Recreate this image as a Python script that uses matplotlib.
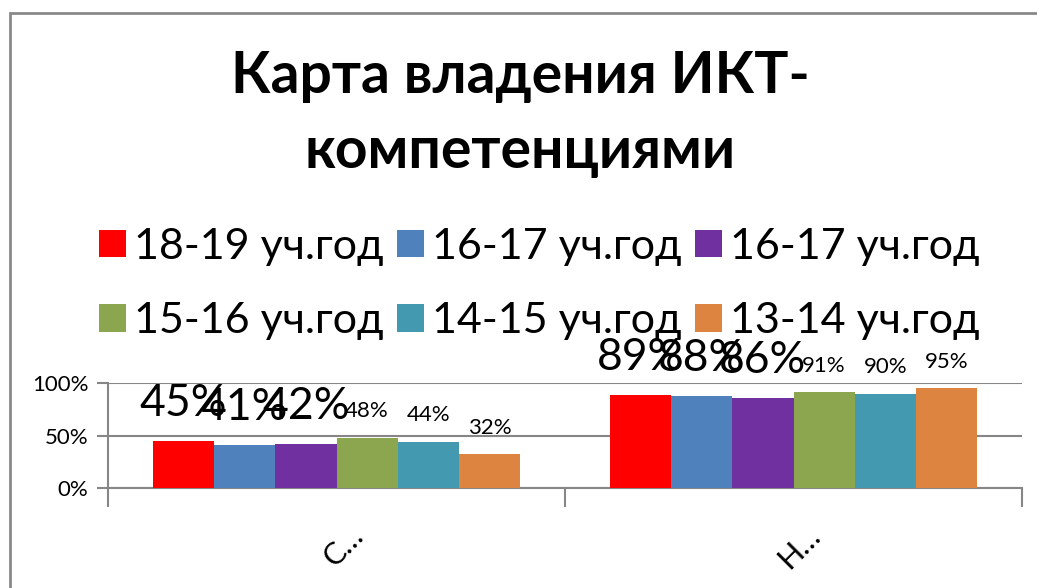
import numpy as np
import matplotlib
matplotlib.use('Agg')
import matplotlib.pyplot as plt
import matplotlib.transforms as mtransforms
from matplotlib.patches import Rectangle

# data
categories = ['С…', 'Н…']
series_names = ['18-19 уч.год', '16-17 уч.год', '16-17 уч.год',
                '15-16 уч.год', '14-15 уч.год', '13-14 уч.год']
s_18_19 = [0.45, 0.89]
s_16_17a = [0.41, 0.88]
s_16_17b = [0.42, 0.86]
s_15_16 = [0.48, 0.91]
s_14_15 = [0.44, 0.90]
s_13_14 = [0.32, 0.95]
series_values = [s_18_19, s_16_17a, s_16_17b, s_15_16, s_14_15, s_13_14]
y_ticks = [0, 0.5, 1.0]
y_tick_labels = ['0%', '50%', '100%']

colors = ['#FF0000', '#4F81BD', '#7030A0', '#8BA64E', '#4299B0', '#DD8441']
grey = '#868686'
fam = ['Lato', 'DejaVu Sans']
plt.rcParams['font.family'] = fam

fig = plt.figure(figsize=(10.37, 5.88), dpi=100)
fig.patch.set_facecolor('white')

# outer chart frame (only top/left visible, rest cut off)
fig.patches.append(Rectangle((10 / 1037, -0.2), 1.5, (588 - 13) / 588 + 0.2,
                             transform=fig.transFigure, fill=False,
                             edgecolor='#898989', linewidth=2))

ax = fig.add_axes([108 / 1037, 1 - 488 / 588, (1022 - 108) / 1037, 105 / 588])

x = np.arange(len(categories))
n = len(series_values)
w = 0.134
bars = []
for i, vals in enumerate(series_values):
    pos = x - w * n / 2 + w * (i + 0.5)
    b = ax.bar(pos, vals, width=w, color=colors[i], label=series_names[i], zorder=3)
    bars.append(b)
    big = i < 3
    for xp, v in zip(pos, vals):
        ax.annotate('%d%%' % round(v * 100), (xp, v),
                    xytext=(0, 27 if big else 19), textcoords='offset points',
                    ha='center', va='center', fontsize=32 if big else 16,
                    color='black', annotation_clip=False, zorder=4)

ax.set_xlim(-0.5, len(categories) - 0.5)
ax.set_ylim(0, 1)
ax.set_yticks(y_ticks)
ax.set_yticklabels(y_tick_labels, fontsize=16)
ax.tick_params(axis='y', length=8, width=1.5, color=grey, pad=6)
ax.grid(axis='y', color=grey, linewidth=1.5, zorder=0)

# category boundaries get tick marks, labels sit at the centres
ax.set_xticks(np.arange(-0.5, len(categories)))
ax.set_xticklabels([])
ax.tick_params(axis='x', which='major', length=14, width=1.5, color=grey)
ax.set_xticks(x, minor=True)
ax.set_xticklabels(categories, minor=True, rotation=45, ha='right',
                   rotation_mode='anchor', fontsize=22)
ax.tick_params(axis='x', which='minor', length=0, pad=24)
shift = mtransforms.ScaledTranslation(12 / 100, 0, fig.dpi_scale_trans)
for lbl in ax.get_xticklabels(minor=True):
    lbl.set_transform(lbl.get_transform() + shift)

for s in ['top', 'right']:
    ax.spines[s].set_visible(False)
for s in ['left', 'bottom']:
    ax.spines[s].set_color(grey)
    ax.spines[s].set_linewidth(1.5)

fig.text(0.5015, 1 - 114 / 588, 'Карта владения ИКТ-\nкомпетенциями',
         ha='center', va='center', fontsize=41, fontweight='bold',
         linespacing=1.5)

order = [0, 3, 1, 4, 2, 5]
fig.legend([bars[k] for k in order], [series_names[k] for k in order],
           ncol=3, loc='center', bbox_to_anchor=(539.5 / 1037, 1 - 284 / 588),
           frameon=False, fontsize=31, handlelength=0.62, handleheight=0.62,
           handletextpad=0.2, columnspacing=0.3, labelspacing=0.85,
           borderpad=0)

fig.savefig('out.png', dpi=100)
